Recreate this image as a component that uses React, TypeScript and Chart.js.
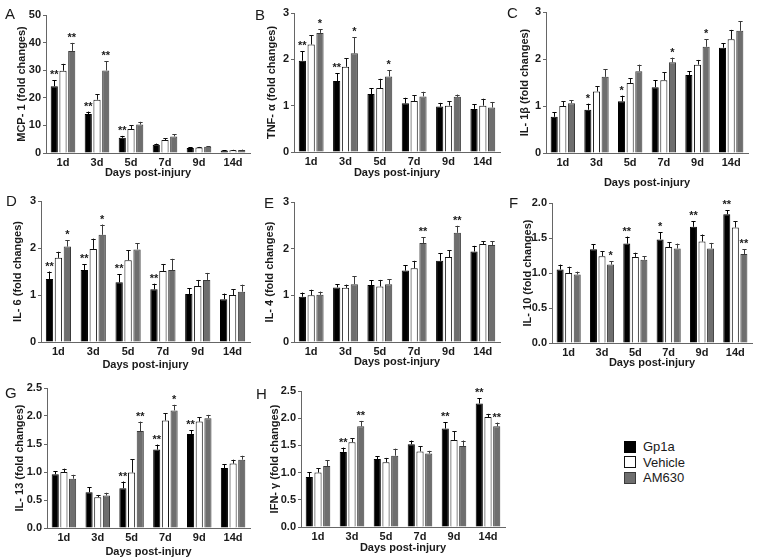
import React, { useEffect, useRef } from 'react';
import { Chart, registerables } from 'chart.js';

Chart.register(...registerables);
Chart.defaults.font.family = '"Liberation Sans", Arial, sans-serif';

const days = ['1d', '3d', '5d', '7d', '9d', '14d'];
const groups = ['Gp1a', 'Vehicle', 'AM630'];

// Panel A: MCP-1
const mcp1Means = [
  [24.2, 14.1, 5.5, 3.0, 1.8, 0.9],
  [29.8, 19.3, 8.7, 4.7, 2.0, 1.0],
  [37.0, 29.9, 10.3, 6.0, 2.3, 1.1],
];
const mcp1Errors = [
  [2.2, 0.9, 0.7, 0.4, 0.2, 0.15],
  [2.5, 1.9, 1.3, 0.7, 0.2, 0.15],
  [2.9, 3.3, 1.0, 0.8, 0.2, 0.15],
];
const mcp1Stars = [
  ['**', '**', '**', '', '', ''],
  ['', '', '', '', '', ''],
  ['**', '**', '', '', '', ''],
];

// Panel B: TNF-α
const tnfMeans = [
  [1.97, 1.53, 1.25, 1.05, 0.98, 0.93],
  [2.32, 1.84, 1.38, 1.10, 1.00, 1.00],
  [2.57, 2.13, 1.63, 1.20, 1.19, 0.96],
];
const tnfErrors = [
  [0.2, 0.17, 0.13, 0.12, 0.08, 0.1],
  [0.2, 0.18, 0.2, 0.12, 0.1, 0.15],
  [0.08, 0.35, 0.13, 0.1, 0.05, 0.12],
];
const tnfStars = [
  ['**', '**', '', '', '', ''],
  ['', '', '', '', '', ''],
  ['*', '*', '*', '', '', ''],
];

// Panel C: IL-1β
const il1bMeans = [
  [0.77, 0.92, 1.10, 1.40, 1.66, 2.24],
  [1.00, 1.31, 1.49, 1.55, 1.88, 2.42],
  [1.06, 1.62, 1.74, 1.93, 2.26, 2.60],
];
const il1bErrors = [
  [0.1, 0.13, 0.12, 0.15, 0.08, 0.09],
  [0.1, 0.11, 0.1, 0.17, 0.1, 0.2],
  [0.06, 0.16, 0.14, 0.1, 0.16, 0.2],
];
const il1bStars = [
  ['', '*', '*', '', '', ''],
  ['', '', '', '', '', ''],
  ['', '', '', '*', '*', ''],
];

// Panel D: IL-6
const il6Means = [
  [1.34, 1.53, 1.27, 1.12, 1.02, 0.91],
  [1.79, 1.98, 1.74, 1.51, 1.19, 1.00],
  [2.03, 2.28, 1.97, 1.53, 1.32, 1.07],
];
const il6Errors = [
  [0.16, 0.12, 0.17, 0.12, 0.12, 0.12],
  [0.13, 0.22, 0.21, 0.15, 0.13, 0.12],
  [0.14, 0.22, 0.13, 0.24, 0.15, 0.15],
];
const il6Stars = [
  ['**', '**', '**', '**', '', ''],
  ['', '', '', '', '', ''],
  ['*', '*', '', '', '', ''],
];

// Panel E: IL-4
const il4Means = [
  [0.97, 1.17, 1.22, 1.53, 1.74, 1.94],
  [1.00, 1.16, 1.19, 1.58, 1.82, 2.10],
  [1.01, 1.24, 1.24, 2.12, 2.34, 2.08],
];
const il4Errors = [
  [0.09, 0.07, 0.1, 0.12, 0.16, 0.12],
  [0.12, 0.07, 0.14, 0.16, 0.15, 0.06],
  [0.07, 0.17, 0.1, 0.12, 0.15, 0.08],
];
const il4Stars = [
  ['', '', '', '', '', ''],
  ['', '', '', '', '', ''],
  ['', '', '', '**', '**', ''],
];

// Panel F: IL-10
const il10Means = [
  [1.05, 1.34, 1.42, 1.48, 1.66, 1.84],
  [1.00, 1.24, 1.23, 1.37, 1.45, 1.65],
  [0.98, 1.12, 1.19, 1.35, 1.35, 1.27],
];
const il10Errors = [
  [0.07, 0.07, 0.1, 0.1, 0.08, 0.06],
  [0.09, 0.07, 0.06, 0.07, 0.1, 0.09],
  [0.04, 0.05, 0.05, 0.07, 0.08, 0.07],
];
const il10Stars = [
  ['', '', '**', '*', '**', '**'],
  ['', '', '', '', '', ''],
  ['', '*', '', '', '', '**'],
];

// Panel G: IL-13
const il13Means = [
  [0.96, 0.64, 0.71, 1.40, 1.68, 1.07],
  [1.00, 0.55, 0.99, 1.92, 1.90, 1.15],
  [0.88, 0.58, 1.73, 2.10, 1.96, 1.22],
];
const il13Errors = [
  [0.05, 0.09, 0.12, 0.09, 0.07, 0.07],
  [0.06, 0.04, 0.24, 0.13, 0.08, 0.07],
  [0.07, 0.05, 0.17, 0.1, 0.06, 0.07],
];
const il13Stars = [
  ['', '', '**', '**', '**', ''],
  ['', '', '', '', '', ''],
  ['', '', '**', '*', '', ''],
];

// Panel H: IFN-γ
const ifngMeans = [
  [0.92, 1.38, 1.25, 1.52, 1.81, 2.27],
  [1.00, 1.56, 1.19, 1.39, 1.60, 2.02],
  [1.12, 1.85, 1.31, 1.35, 1.49, 1.85],
];
const ifngErrors = [
  [0.09, 0.08, 0.05, 0.07, 0.12, 0.1],
  [0.08, 0.07, 0.08, 0.09, 0.16, 0.06],
  [0.11, 0.1, 0.13, 0.05, 0.1, 0.07],
];
const ifngStars = [
  ['', '**', '', '', '**', '**'],
  ['', '', '', '', '', ''],
  ['', '**', '', '', '', '**'],
];

const fills = ['#000000', '#ffffff', '#6e6e6e'];
const borders = ['#000000', '#111111', '#3a3a3a'];
const errColors = ['#000000', '#111111', '#3a3a3a'];
const textColor = '#1a1a1a';
const axisColor = '#666666';

type PanelDef = {
  letter: string;
  yTitle: string;
  max: number;
  step: number;
  decimals: number;
  means: number[][];
  errors: number[][];
  stars: string[][];
  axisX: number;
  right: number;
  top: number;
  bottom: number;
  yTitleGap: number;
  xTitleDy: number;
  letterX: number;
  letterY: number;
};

const panels: PanelDef[] = [
  { letter: 'A', yTitle: 'MCP- 1 (fold changes)', max: 50, step: 10, decimals: 0, means: mcp1Means, errors: mcp1Errors, stars: mcp1Stars, axisX: 46, right: 250, top: 15, bottom: 153, yTitleGap: 24, xTitleDy: 20, letterX: 5, letterY: 8 },
  { letter: 'B', yTitle: 'TNF- α (fold changes)', max: 3, step: 1, decimals: 0, means: tnfMeans, errors: tnfErrors, stars: tnfStars, axisX: 294, right: 500, top: 13, bottom: 152, yTitleGap: 22, xTitleDy: 21, letterX: 255, letterY: 9 },
  { letter: 'C', yTitle: 'IL- 1β (fold changes)', max: 3, step: 1, decimals: 0, means: il1bMeans, errors: il1bErrors, stars: il1bStars, axisX: 546, right: 748, top: 12, bottom: 153, yTitleGap: 21, xTitleDy: 30, letterX: 507, letterY: 7 },
  { letter: 'D', yTitle: 'IL- 6 (fold changes)', max: 3, step: 1, decimals: 0, means: il6Means, errors: il6Errors, stars: il6Stars, axisX: 41, right: 250, top: 201, bottom: 342, yTitleGap: 23, xTitleDy: 23, letterX: 6, letterY: 195 },
  { letter: 'E', yTitle: 'IL- 4 (fold changes)', max: 3, step: 1, decimals: 0, means: il4Means, errors: il4Errors, stars: il4Stars, axisX: 294, right: 500, top: 202, bottom: 342, yTitleGap: 24, xTitleDy: 20, letterX: 264, letterY: 197 },
  { letter: 'F', yTitle: 'IL- 10 (fold changes)', max: 2, step: 0.5, decimals: 1, means: il10Means, errors: il10Errors, stars: il10Stars, axisX: 552, right: 752, top: 203, bottom: 343, yTitleGap: 24, xTitleDy: 20, letterX: 509, letterY: 197 },
  { letter: 'G', yTitle: 'IL- 13 (fold changes)', max: 2.5, step: 0.5, decimals: 1, means: il13Means, errors: il13Errors, stars: il13Stars, axisX: 47, right: 250, top: 388, bottom: 528, yTitleGap: 27, xTitleDy: 24, letterX: 5, letterY: 387 },
  { letter: 'H', yTitle: 'IFN- γ (fold changes)', max: 2.5, step: 0.5, decimals: 1, means: ifngMeans, errors: ifngErrors, stars: ifngStars, axisX: 301, right: 505, top: 391, bottom: 527, yTitleGap: 26, xTitleDy: 21, letterX: 256, letterY: 388 },
];

const errorStarPlugin = {
  id: 'errStars',
  afterDatasetsDraw(chart: any, _args: any, opts: any) {
    const ctx = chart.ctx;
    const yScale = chart.scales.y;
    const errors: number[][] = opts.errors;
    const stars: string[][] = opts.stars;
    chart.data.datasets.forEach((ds: any, i: number) => {
      const meta = chart.getDatasetMeta(i);
      meta.data.forEach((el: any, j: number) => {
        const v = ds.data[j];
        const e = errors[i][j];
        const yTop = yScale.getPixelForValue(v + e);
        const x = Math.round(el.x) + 0.5;
        const capHalf = Math.max(2, el.width * 0.3);
        ctx.save();
        ctx.strokeStyle = errColors[i];
        ctx.lineWidth = 1;
        ctx.beginPath();
        ctx.moveTo(x, el.y);
        ctx.lineTo(x, yTop);
        ctx.moveTo(x - capHalf, Math.round(yTop) + 0.5);
        ctx.lineTo(x + capHalf, Math.round(yTop) + 0.5);
        ctx.stroke();
        const s = stars[i][j];
        if (s) {
          ctx.fillStyle = textColor;
          ctx.font = 'bold 11px "Liberation Sans", Arial, sans-serif';
          ctx.textAlign = 'center';
          ctx.textBaseline = 'alphabetic';
          ctx.fillText(s, el.x, yTop - 2);
        }
        ctx.restore();
      });
    });
  },
};

function Panel({ p }: { p: PanelDef }) {
  const ref = useRef<HTMLCanvasElement>(null);
  const padTop = 16;
  const padRight = 6;
  const cl = Math.max(0, p.axisX - 52);
  const yw = p.axisX - cl;
  const ct = p.top - padTop;
  const xh = p.xTitleDy + 10;
  const ch = p.bottom - ct + xh;
  const cw = p.right + padRight - cl;
  const yTitlePad = p.axisX - p.yTitleGap - cl - 6.6;

  useEffect(() => {
    if (!ref.current) return;
    const chart = new Chart(ref.current, {
      type: 'bar',
      data: {
        labels: days,
        datasets: groups.map((g, i) => ({
          label: g,
          data: p.means[i],
          backgroundColor: fills[i],
          borderColor: borders[i],
          borderWidth: 1,
          categoryPercentage: 0.77,
          barPercentage: 0.82,
        })),
      },
      options: {
        responsive: false,
        animation: false,
        devicePixelRatio: 1,
        layout: { padding: { top: padTop, right: padRight, left: 0, bottom: 0 } },
        plugins: {
          legend: { display: false },
          tooltip: { enabled: false },
          errStars: { errors: p.errors, stars: p.stars },
        } as any,
        scales: {
          x: {
            grid: { display: false, drawTicks: false, tickLength: 0 },
            border: { display: true, color: axisColor, width: 1 },
            ticks: { color: textColor, font: { size: 11, weight: 'bold' }, padding: 3, maxRotation: 0 },
            title: {
              display: true,
              text: 'Days post-injury',
              color: textColor,
              font: { size: 11, weight: 'bold' },
              padding: { top: 0, bottom: 3.4 },
            },
            afterFit: (s: any) => { s.height = xh; },
          },
          y: {
            min: 0,
            max: p.max,
            grid: { display: true, drawOnChartArea: false, drawTicks: true, tickLength: 3, color: axisColor },
            border: { display: true, color: axisColor, width: 1 },
            ticks: {
              stepSize: p.step,
              color: textColor,
              font: { size: 11, weight: 'bold' },
              padding: 2,
              callback: (v: any) => Number(v).toFixed(p.decimals),
            },
            title: {
              display: true,
              text: p.yTitle,
              color: textColor,
              font: { size: 11, weight: 'bold' },
              padding: { top: yTitlePad, bottom: 0 },
            },
            afterFit: (s: any) => { s.width = yw; },
          },
        },
      } as any,
      plugins: [errorStarPlugin],
    });
    return () => chart.destroy();
  }, []);

  return (
    <>
      <canvas
        ref={ref}
        width={cw}
        height={ch}
        style={{ position: 'absolute', left: cl, top: ct, width: cw, height: ch }}
      />
      <div
        style={{
          position: 'absolute',
          left: p.letterX,
          top: p.letterY - 2,
          fontSize: 15,
          lineHeight: '15px',
          fontFamily: '"Liberation Sans", Arial, sans-serif',
          color: textColor,
        }}
      >
        {p.letter}
      </div>
    </>
  );
}

export default function App() {
  return (
    <div
      style={{
        position: 'absolute',
        left: 0,
        top: 0,
        width: 766,
        height: 560,
        background: '#ffffff',
        overflow: 'hidden',
      }}
    >
      {panels.map((p) => (
        <Panel key={p.letter} p={p} />
      ))}
      <div style={{ position: 'absolute', left: 624, top: 439, fontFamily: '"Liberation Sans", Arial, sans-serif' }}>
        {groups.map((g, i) => (
          <div key={g} style={{ display: 'flex', alignItems: 'center', height: 15.5 }}>
            <span
              style={{
                display: 'inline-block',
                width: 10,
                height: 10,
                background: fills[i],
                border: `1px solid ${borders[i]}`,
                marginRight: 7,
              }}
            />
            <span style={{ fontSize: 13, color: textColor }}>{g}</span>
          </div>
        ))}
      </div>
    </div>
  );
}
